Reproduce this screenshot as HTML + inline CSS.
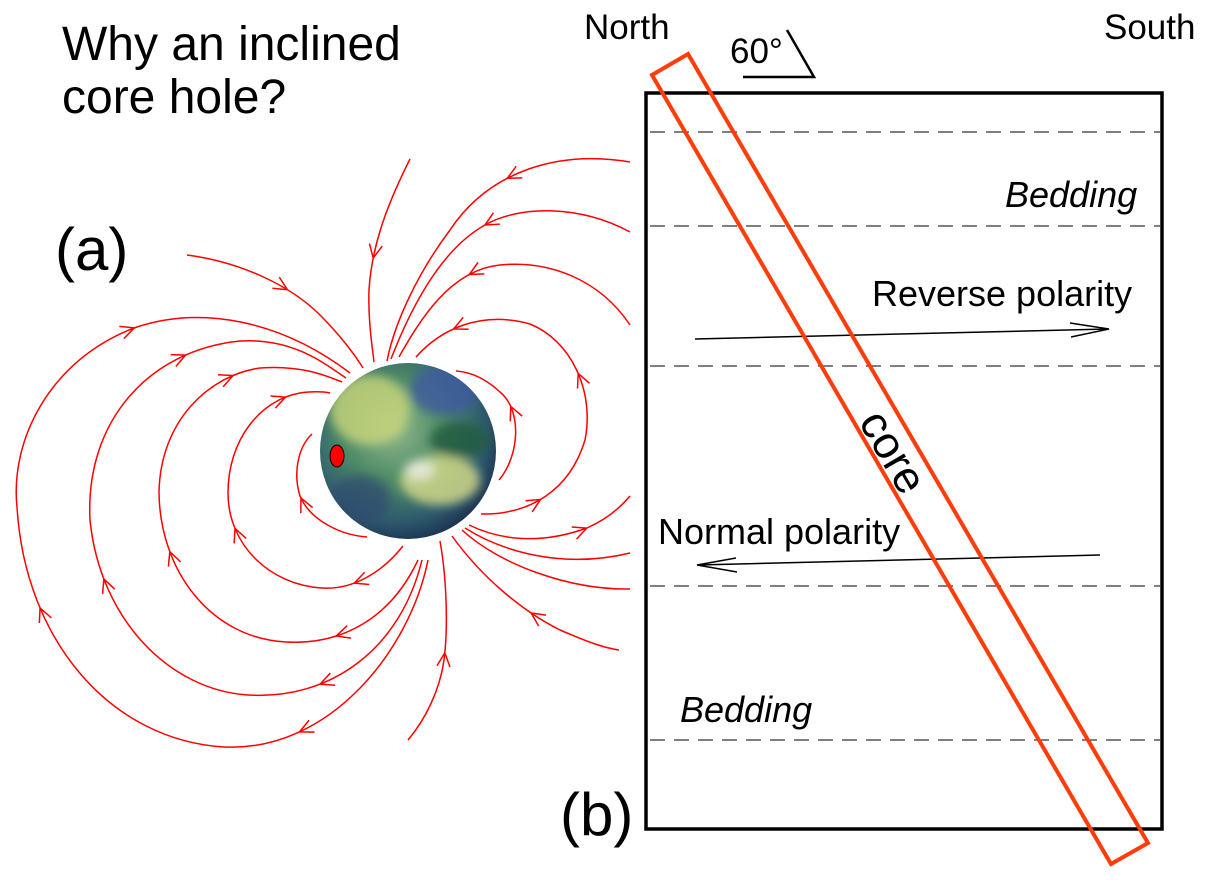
<!DOCTYPE html>
<html><head><meta charset="utf-8"><style>
html,body{margin:0;padding:0;background:#fff;}
svg{display:block;}
text{font-family:"Liberation Sans",Arial,sans-serif;fill:#000;}
</style></head><body>
<svg id="s" width="1207" height="880" viewBox="0 0 1207 880" xmlns="http://www.w3.org/2000/svg">
<defs>
<radialGradient id="eg" cx="0.42" cy="0.38" r="0.65">
<stop offset="0" stop-color="#8fb88a"/>
<stop offset="0.45" stop-color="#4d8a66"/>
<stop offset="0.8" stop-color="#2e5a6e"/>
<stop offset="1" stop-color="#1c3350"/>
</radialGradient>
<filter id="bl"><feGaussianBlur stdDeviation="5"/></filter>
<clipPath id="ec"><circle cx="408" cy="451" r="88"/></clipPath>
</defs>
<text x="62" y="60" font-size="48">Why an inclined</text>
<text x="62" y="113" font-size="48">core hole?</text>
<text x="55" y="270" font-size="60">(a)</text>

<g id="field" fill="none" stroke="#f00" stroke-width="1.5"></g>

<circle cx="408" cy="451" r="88" fill="url(#eg)"/>
<g clip-path="url(#ec)" filter="url(#bl)">
<ellipse cx="370" cy="410" rx="40" ry="35" fill="#c9d67a" opacity="0.8"/>
<ellipse cx="445" cy="390" rx="35" ry="25" fill="#3d5aa0" opacity="0.8"/>
<ellipse cx="440" cy="480" rx="40" ry="25" fill="#d8dd8a" opacity="0.8"/>
<ellipse cx="460" cy="440" rx="30" ry="18" fill="#1f5a40" opacity="0.8"/>
<ellipse cx="360" cy="500" rx="30" ry="25" fill="#2d4a70" opacity="0.7"/>
<ellipse cx="420" cy="470" rx="15" ry="10" fill="#f0f0f0" opacity="0.7"/>
</g>
<ellipse cx="337" cy="456" rx="7" ry="11" fill="#f00" stroke="#000" stroke-width="1"/>

<!-- panel b -->
<text x="584" y="39" font-size="35">North</text>
<text x="1104" y="39" font-size="35">South</text>
<text x="730" y="63" font-size="35">60°</text>
<polyline points="743,77 814,77 787,30" fill="none" stroke="#000" stroke-width="2.5"/>
<g stroke="#333" stroke-width="1.3" stroke-dasharray="15,9" fill="none">
<line x1="650" y1="132" x2="1160" y2="132"/>
<line x1="650" y1="226" x2="1160" y2="226"/>
<line x1="650" y1="366" x2="1160" y2="366"/>
<line x1="650" y1="586" x2="1160" y2="586"/>
<line x1="650" y1="740" x2="1160" y2="740"/>
</g>
<rect x="646" y="93" width="516" height="736" fill="none" stroke="#000" stroke-width="3.5"/>
<text x="1005" y="207" font-size="36" font-style="italic">Bedding</text>
<text x="680" y="722" font-size="36" font-style="italic">Bedding</text>
<text x="872" y="306" font-size="36">Reverse polarity</text>
<text x="658" y="544" font-size="36">Normal polarity</text>
<g stroke="#000" stroke-width="1.5" fill="none">
<line x1="695" y1="339" x2="1108" y2="329"/>
<polyline points="1070,323 1109,329 1071,337"/>
<line x1="1100" y1="555" x2="698" y2="565"/>
<polyline points="736,558 697,565 737,572"/>
</g>
<text x="560" y="835" font-size="60">(b)</text>
<polygon points="652,75 688,54 1148,843 1111,864" fill="none" stroke="#ff3c0a" stroke-width="4"/>
<text x="0" y="0" font-size="45" text-anchor="middle" transform="translate(893,452) rotate(59.7) translate(0,15)">core</text>
</svg>
<script>
var paths=[
["M428,560 C410,650 330,752 224,747 C110,740 25,640 17,507 C10,440 50,360 134,328 C200,305 280,320 350,373",[[302,737],[35,610],[134,328]]],
["M422,560 C400,650 330,700 248,695 C170,690 100,620 90,520 C85,420 150,350 240,341 C290,338 320,360 346,378",[[321,687],[101,580],[183,350]]],
["M418,560 C390,620 340,645 286,642 C210,638 160,570 159,493 C160,420 210,375 260,368 C300,365 325,375 342,382",[[337,638],[167,553],[232,373]]],
["M403,546 C380,575 350,590 322,588 C270,585 228,545 228,493 C228,440 260,400 300,393 C315,391 325,392 330,393",[[355,584],[236,528],[285,396]]],
["M367,537 C340,535 310,520 300,496 C292,470 300,445 312,434",[[302,498]]],
["M410,159 C392,195 372,240 369,290 C368,320 372,345 374,362",[[369,257]]],
["M187,255 C240,262 290,285 320,315 C340,335 355,355 363,368",[[287,291]]],
["M630,162 C560,150 490,170 450,230 C420,270 395,320 387,361",[[505,175]]],
["M630,232 C580,205 520,205 485,225 C440,250 410,310 391,359",[[485,225]]],
["M630,325 C600,280 550,260 500,265 C450,270 420,320 399,357",[[469,275]]],
["M481,514 C530,515 570,490 585,440 C595,390 570,340 530,324 C480,310 440,330 416,357",[[542,503],[575,375],[452,325]]],
["M499,480 C520,455 522,410 500,392 C485,378 470,372 456,371",[[509,407]]],
["M469,525 C500,540 540,545 587,528 C605,520 620,508 630,496",[[587,528]]],
["M465,528 C500,550 560,570 630,553",[]],
["M462,530 C500,565 570,590 630,589",[]],
["M619,650 C605,648 590,643 560,630 C520,610 480,575 452,536",[[530,614]]],
["M408,740 C425,720 440,690 444,660 C448,630 447,580 440,541",[[444,653]]]
];
var g=document.getElementById('field'),NS="http://www.w3.org/2000/svg";
paths.forEach(function(p){
 var el=document.createElementNS(NS,'path');el.setAttribute('d',p[0]);g.appendChild(el);
 var L=el.getTotalLength();
 p[1].forEach(function(h){
  var best=0,bd=1e9;
  for(var s=0;s<=L;s+=1){var q=el.getPointAtLength(s);var d=(q.x-h[0])*(q.x-h[0])+(q.y-h[1])*(q.y-h[1]);if(d<bd){bd=d;best=s;}}
  var a=el.getPointAtLength(Math.max(0,best-2)),b=el.getPointAtLength(Math.min(L,best+2));
  var ang=Math.atan2(b.y-a.y,b.x-a.x),t=el.getPointAtLength(best);
  var len=15,sp=0.45;
  var x1=t.x-len*Math.cos(ang-sp),y1=t.y-len*Math.sin(ang-sp),x2=t.x-len*Math.cos(ang+sp),y2=t.y-len*Math.sin(ang+sp);
  var pl=document.createElementNS(NS,'polyline');
  pl.setAttribute('points',x1+','+y1+' '+t.x+','+t.y+' '+x2+','+y2);g.appendChild(pl);
 });
});
</script>
</body></html>
